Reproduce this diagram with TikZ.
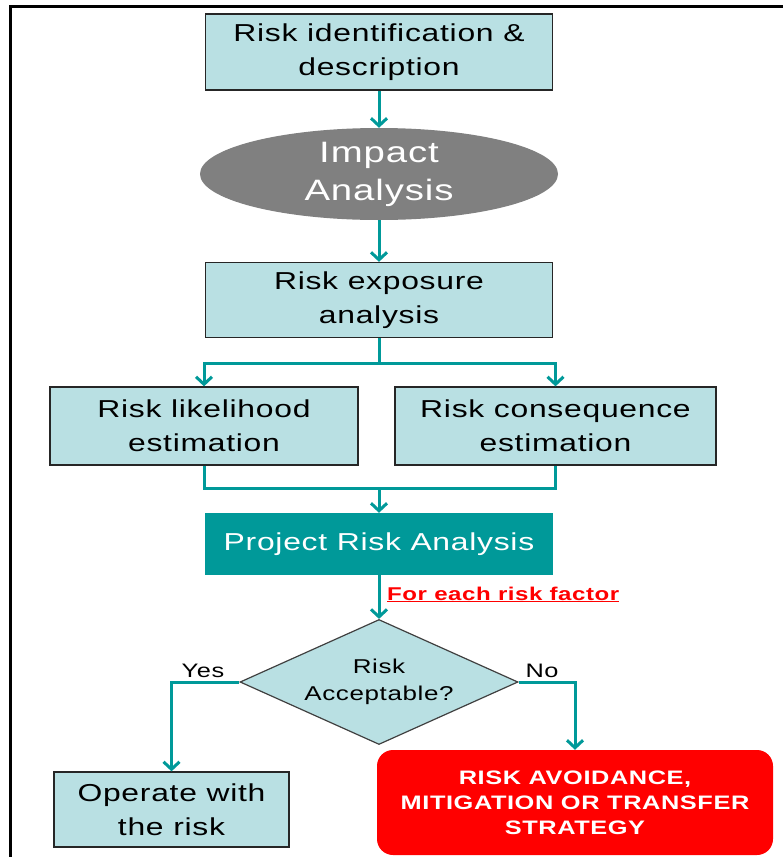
\documentclass[tikz,border=0pt]{standalone}
\usepackage{fontspec}
\setmainfont{Liberation Sans}[FakeStretch=1.3,LetterSpace=3]
\usetikzlibrary{shapes.geometric,arrows.meta}
\definecolor{boxfill}{RGB}{185,224,227}
\definecolor{tealc}{RGB}{0,153,153}
\definecolor{ellgray}{RGB}{128,128,128}
\begin{document}
\begin{tikzpicture}[x=1pt,y=-1pt,
  boxnode/.style={draw=black!85, line width=1.3pt, fill=boxfill, align=center, inner sep=0pt, font=\fontsize{24.5}{34}\selectfont},
  tip/.tip={Straight Barb[length=7.5pt,width=16pt]},
  flow/.style={draw=tealc, line width=3pt, -tip},
  plainline/.style={draw=tealc, line width=3pt},
  lbl/.style={inner sep=0pt, anchor=base, font=\fontsize{19.5}{24}\selectfont}
]
\useasboundingbox (0,0) rectangle (783,857);
\fill[white] (0,0) rectangle (783,857);
% frame
\draw[line width=3pt] (10,857) -- (10,6) -- (783,6);

% nodes
\node[boxnode, minimum width=347, minimum height=76] (b1) at (379,52) {Risk identification \&\\description};
\node[ellipse, fill=ellgray, minimum width=358, minimum height=92, inner sep=0pt] (ell) at (379,174) {};
\node[text=white, align=center, inner sep=0pt, font=\fontsize{29.5}{38}\selectfont] (ellt) at (ell.center) {Impact\\Analysis};
\node[boxnode, minimum width=347, minimum height=75] (b3) at (379,300) {Risk exposure\\analysis};
\node[boxnode, minimum width=308, minimum height=78] (b4l) at (204,426) {Risk likelihood\\estimation};
\node[boxnode, minimum width=321, minimum height=78] (b4r) at (555.5,426) {Risk consequence\\estimation};
\node[fill=tealc, minimum width=348, minimum height=62, inner sep=0pt, text=white, font=\fontsize{24.5}{34}\selectfont] (b5) at (379,544) {Project Risk Analysis};
\node[diamond, draw=black!75, line width=1.2pt, fill=boxfill, aspect=2.22, minimum width=278, minimum height=125, inner sep=0pt, align=center, font=\fontsize{20}{27}\selectfont] (dia) at (379,682) {Risk\\Acceptable?};
\node[boxnode, minimum width=235, minimum height=75] (op) at (171.5,809.5) {Operate with\\the risk};
\node[fill=red, rounded corners=16pt, minimum width=396, minimum height=105, inner sep=0pt, text=white, align=center, font=\bfseries\fontsize{19.5}{25}\selectfont] (red) at (575,802.5) {RISK AVOIDANCE,\\MITIGATION OR TRANSFER\\STRATEGY};

% labels
\node[inner sep=0pt, anchor=base west, text=red, font=\bfseries\fontsize{18.5}{22}\selectfont] (lab) at (387,600) {\underline{For each risk factor}};
\node[lbl] (yes) at (203,677) {Yes};
\node[lbl] (no) at (542,677) {No};

% connectors
\coordinate (j1) at (379,363);
\coordinate (j2) at (379,488);
\draw[flow] (b1.south) -- (ell.north);
\draw[flow] (ell.south) -- (b3.north);
\draw[plainline] (b3.south) -- (j1);
\draw[draw=tealc, line width=3pt, tip-tip] (b4l.north) |- (j1) -| (b4r.north);
\draw[plainline] (b4l.south) |- (j2) -| (b4r.south);
\draw[flow] (j2) -- (b5.north);
\draw[flow] (b5.south) -- (dia.north);
\draw[flow] (dia.west) -| (op.north);
\draw[flow] (dia.east) -| (red.north);
\end{tikzpicture}
\end{document}
